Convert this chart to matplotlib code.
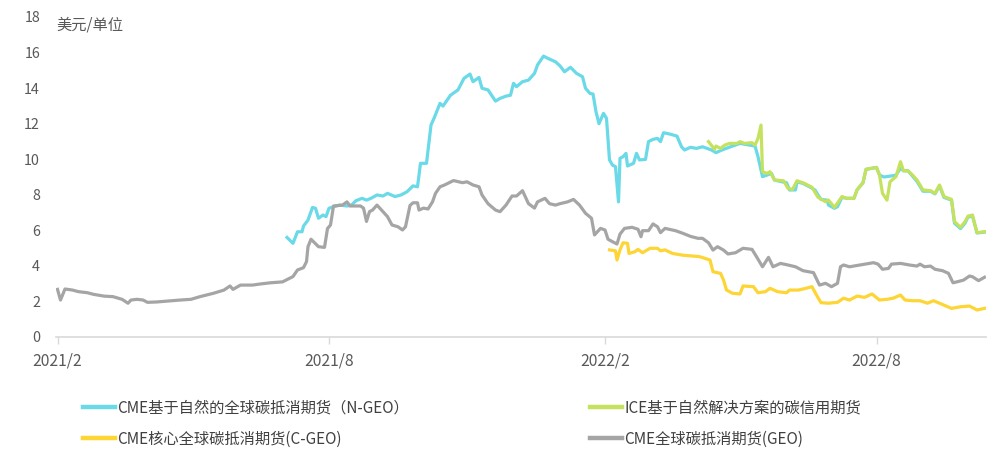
import matplotlib
matplotlib.use("Agg")
import matplotlib.pyplot as plt
import pandas as pd

plt.rcParams['font.family'] = ['Noto Sans CJK SC', 'DejaVu Sans']

# ---------------- data ----------------
geo_dates = ["2021-02-01","2021-02-03","2021-02-06","2021-02-11","2021-02-15","2021-02-21","2021-02-25",
    "2021-03-04","2021-03-10","2021-03-16","2021-03-20","2021-03-22","2021-03-26","2021-03-30","2021-04-02",
    "2021-04-08","2021-04-15","2021-04-24","2021-05-01","2021-05-07","2021-05-16","2021-05-23","2021-05-27",
    "2021-05-29","2021-06-03","2021-06-11","2021-06-16","2021-06-23","2021-07-01","2021-07-08","2021-07-11",
    "2021-07-15","2021-07-17","2021-07-18","2021-07-20","2021-07-25","2021-07-29","2021-07-31","2021-08-02",
    "2021-08-04","2021-08-10","2021-08-13","2021-08-15","2021-08-22","2021-08-24","2021-08-26","2021-08-28",
    "2021-08-30","2021-09-02","2021-09-05","2021-09-09","2021-09-12","2021-09-16","2021-09-19","2021-09-21",
    "2021-09-24","2021-09-26","2021-09-29","2021-09-30","2021-10-03","2021-10-06","2021-10-09","2021-10-11",
    "2021-10-14","2021-10-17","2021-10-23","2021-10-29","2021-11-01","2021-11-05","2021-11-09","2021-11-11",
    "2021-11-15","2021-11-20","2021-11-23","2021-11-27","2021-12-01","2021-12-04","2021-12-08","2021-12-12",
    "2021-12-16","2021-12-18","2021-12-23","2021-12-26","2021-12-30","2022-01-02","2022-01-07","2022-01-11",
    "2022-01-15","2022-01-19","2022-01-23","2022-01-25","2022-01-29","2022-02-01","2022-02-03","2022-02-06",
    "2022-02-09","2022-02-11","2022-02-14","2022-02-19","2022-02-23","2022-02-25","2022-02-26","2022-03-02",
    "2022-03-05","2022-03-08","2022-03-10","2022-03-13","2022-03-20","2022-03-25","2022-03-30","2022-04-04",
    "2022-04-07","2022-04-11","2022-04-14","2022-04-17","2022-04-21","2022-04-24","2022-04-29","2022-05-04",
    "2022-05-10","2022-05-13","2022-05-17","2022-05-21","2022-05-24","2022-05-29","2022-06-03","2022-06-08",
    "2022-06-13","2022-06-20","2022-06-24","2022-06-28","2022-07-02","2022-07-06","2022-07-08","2022-07-10",
    "2022-07-14","2022-07-21","2022-07-30","2022-08-02","2022-08-05","2022-08-09","2022-08-11","2022-08-17",
    "2022-08-23","2022-08-28","2022-08-30","2022-09-02","2022-09-06","2022-09-09","2022-09-14","2022-09-18",
    "2022-09-21","2022-09-24","2022-09-28","2022-10-02","2022-10-04","2022-10-08","2022-10-12"]
geo_values = [2.68,2.08,2.70,2.64,2.55,2.49,2.40,
    2.30,2.27,2.12,1.90,2.08,2.12,2.08,1.95,
    1.97,2.02,2.08,2.12,2.27,2.46,2.64,2.87,
    2.68,2.92,2.92,2.98,3.05,3.10,3.40,3.77,
    3.90,4.24,5.08,5.50,5.08,5.04,6.10,6.30,
    7.37,7.42,7.60,7.37,7.37,7.25,6.50,7.05,
    7.14,7.42,7.14,6.77,6.30,6.20,6.02,6.20,
    7.40,7.55,7.55,7.14,7.25,7.20,7.60,8.08,
    8.45,8.55,8.80,8.68,8.73,8.55,8.45,7.99,
    7.50,7.14,7.05,7.42,7.93,7.93,8.23,7.50,
    7.25,7.60,7.80,7.50,7.42,7.50,7.60,7.74,
    7.42,6.96,6.68,5.74,6.11,6.02,5.50,5.36,
    5.23,5.79,6.11,6.17,6.06,5.64,5.98,5.98,
    6.36,6.20,5.87,6.11,5.98,5.83,5.66,5.55,
    5.55,5.30,4.89,5.08,4.89,4.67,4.74,4.99,
    4.93,4.52,3.95,4.48,3.95,4.14,4.05,3.95,
    3.73,3.62,2.92,3.02,2.83,3.02,3.95,4.05,
    3.95,4.05,4.18,4.10,3.81,3.86,4.10,4.14,
    4.05,3.99,4.10,3.95,3.99,3.81,3.73,3.58,
    3.05,3.11,3.20,3.43,3.39,3.17,3.36]

cgeo_dates = ["2022-02-04","2022-02-08","2022-02-09","2022-02-11","2022-02-13","2022-02-16","2022-02-17",
    "2022-02-21","2022-02-23","2022-02-26","2022-03-03","2022-03-08","2022-03-10","2022-03-13","2022-03-18",
    "2022-03-25","2022-04-01","2022-04-05","2022-04-12","2022-04-14","2022-04-19","2022-04-21","2022-04-23",
    "2022-04-27","2022-05-02","2022-05-04","2022-05-11","2022-05-14","2022-05-19","2022-05-22","2022-05-27",
    "2022-06-02","2022-06-04","2022-06-10","2022-06-15","2022-06-19","2022-06-22","2022-06-25","2022-06-30",
    "2022-07-06","2022-07-10","2022-07-14","2022-07-19","2022-07-24","2022-07-29","2022-08-03","2022-08-08",
    "2022-08-12","2022-08-17","2022-08-20","2022-08-25","2022-08-30","2022-09-04","2022-09-08","2022-09-12",
    "2022-09-20","2022-09-26","2022-10-02","2022-10-07","2022-10-12"]
cgeo_values = [4.90,4.85,4.33,4.90,5.30,5.27,4.70,
    4.80,4.93,4.74,4.99,4.99,4.85,4.90,4.70,
    4.60,4.55,4.52,4.33,3.67,3.58,3.21,2.64,
    2.46,2.42,2.87,2.83,2.49,2.55,2.74,2.55,
    2.49,2.64,2.64,2.74,2.83,2.36,1.93,1.90,
    1.95,2.18,2.08,2.30,2.23,2.42,2.08,2.12,
    2.18,2.36,2.08,2.04,2.04,1.90,2.04,1.90,
    1.61,1.70,1.74,1.52,1.61]

ngeo_dates = ["2021-07-04","2021-07-08","2021-07-11","2021-07-14","2021-07-15","2021-07-18","2021-07-21",
    "2021-07-23","2021-07-25","2021-07-28","2021-07-30","2021-08-01","2021-08-04","2021-08-08","2021-08-13",
    "2021-08-16","2021-08-19","2021-08-23","2021-08-26","2021-08-29","2021-09-02","2021-09-06","2021-09-09",
    "2021-09-14","2021-09-18","2021-09-22","2021-09-26","2021-09-29","2021-10-01","2021-10-05","2021-10-08",
    "2021-10-10","2021-10-14","2021-10-16","2021-10-21","2021-10-26","2021-10-30","2021-11-03","2021-11-05",
    "2021-11-09","2021-11-11","2021-11-15","2021-11-20","2021-11-23","2021-11-27","2021-11-30","2021-12-02",
    "2021-12-04","2021-12-08","2021-12-12","2021-12-16","2021-12-18","2021-12-22","2021-12-25","2021-12-30",
    "2022-01-02","2022-01-05","2022-01-09","2022-01-13","2022-01-17","2022-01-19","2022-01-22","2022-01-24",
    "2022-01-26","2022-01-28","2022-01-31","2022-02-02","2022-02-04","2022-02-06","2022-02-08","2022-02-10",
    "2022-02-11","2022-02-13","2022-02-15","2022-02-16","2022-02-20","2022-02-22","2022-02-24","2022-02-28",
    "2022-03-02","2022-03-05","2022-03-08","2022-03-10","2022-03-12","2022-03-16","2022-03-21","2022-03-24",
    "2022-03-26","2022-03-30","2022-04-03","2022-04-07","2022-04-13","2022-04-16","2022-04-20","2022-04-27",
    "2022-05-02","2022-05-08","2022-05-12","2022-05-14","2022-05-17","2022-05-20","2022-05-23","2022-05-25",
    "2022-05-30","2022-06-02","2022-06-04","2022-06-08","2022-06-09","2022-06-13","2022-06-18","2022-06-21",
    "2022-06-23","2022-06-25","2022-06-29","2022-06-30","2022-07-04","2022-07-06","2022-07-09","2022-07-12",
    "2022-07-17","2022-07-19","2022-07-23","2022-07-25","2022-08-01","2022-08-03","2022-08-06","2022-08-10",
    "2022-08-14","2022-08-17","2022-08-19","2022-08-22","2022-08-25","2022-08-28","2022-09-01","2022-09-06",
    "2022-09-09","2022-09-12","2022-09-15","2022-09-20","2022-09-22","2022-09-26","2022-09-29","2022-10-01",
    "2022-10-04","2022-10-07","2022-10-12"]
ngeo_values = [5.60,5.27,5.92,5.92,6.24,6.58,7.29,
    7.24,6.68,6.86,6.77,7.24,7.33,7.42,7.37,
    7.42,7.67,7.80,7.70,7.80,7.99,7.93,8.08,
    7.90,7.99,8.17,8.50,8.45,9.77,9.77,11.92,
    12.30,13.14,12.99,13.60,13.90,14.55,14.79,14.36,
    14.60,13.99,13.90,13.27,13.42,13.55,13.60,14.27,
    14.08,14.36,14.45,14.83,15.30,15.80,15.67,15.48,
    15.25,14.92,15.17,14.83,14.64,13.99,13.70,13.67,
    12.67,12.00,12.58,12.30,9.96,9.67,9.58,7.60,
    10.05,10.14,10.33,9.62,9.77,10.33,9.96,9.99,
    10.99,11.12,11.17,10.99,11.49,11.42,11.30,10.70,
    10.52,10.67,10.61,10.70,10.52,10.37,10.52,10.74,
    10.89,10.80,10.74,10.14,9.02,9.11,9.20,8.83,
    8.73,8.68,8.27,8.27,8.73,8.64,8.42,8.27,
    7.99,7.74,7.70,7.42,7.24,7.33,7.86,7.80,
    7.80,8.27,8.68,9.43,9.54,9.11,9.00,9.05,
    9.10,9.50,9.35,9.35,9.05,8.75,8.20,8.20,
    8.05,8.50,7.85,7.70,6.40,6.10,6.40,6.75,
    6.80,5.85,5.90]

ice_dates = ["2022-04-11","2022-04-15","2022-04-16","2022-04-19","2022-04-22","2022-04-25","2022-04-30",
    "2022-05-02","2022-05-05","2022-05-10","2022-05-12","2022-05-14","2022-05-16","2022-05-17","2022-05-20",
    "2022-05-22","2022-05-25","2022-05-31","2022-06-03","2022-06-06","2022-06-09","2022-06-14","2022-06-19",
    "2022-06-23","2022-06-28","2022-06-30","2022-07-04","2022-07-09","2022-07-12","2022-07-17","2022-07-19",
    "2022-07-23","2022-07-25","2022-08-01","2022-08-03","2022-08-05","2022-08-08","2022-08-10","2022-08-14",
    "2022-08-17","2022-08-19","2022-08-22","2022-08-25","2022-08-28","2022-09-01","2022-09-06","2022-09-09",
    "2022-09-12","2022-09-15","2022-09-20","2022-09-22","2022-09-26","2022-09-29","2022-10-01","2022-10-04",
    "2022-10-07","2022-10-12"]
ice_values = [10.99,10.56,10.74,10.61,10.80,10.89,10.89,
    10.99,10.89,10.93,10.80,11.17,11.92,9.30,9.20,
    9.30,8.83,8.79,8.36,8.30,8.79,8.64,8.42,
    7.86,7.61,7.70,7.29,7.90,7.80,7.80,8.27,
    8.68,9.43,9.54,9.11,8.08,7.70,8.73,9.02,
    9.86,9.35,9.35,9.11,8.83,8.27,8.23,8.08,
    8.55,7.90,7.74,6.49,6.17,6.49,6.80,6.86,
    5.87,5.92]

labels = ["CME基于自然的全球碳抵消期货（N-GEO）", "ICE基于自然解决方案的碳信用期货",
          "CME核心全球碳抵消期货(C-GEO)", "CME全球碳抵消期货(GEO)"]
xtick_dates = ["2021-02-01", "2021-08-01", "2022-02-01", "2022-08-01"]
xtick_labels = ["2021/2", "2021/8", "2022/2", "2022/8"]
yticks = [0, 2, 4, 6, 8, 10, 12, 14, 16, 18]

c_cyan, c_green, c_yellow, c_gray = "#6ad9e8", "#c5e25f", "#fdd535", "#a5a5a5"

# ---------------- plot ----------------
fig = plt.figure(figsize=(9.97, 4.57), dpi=100)
ax = fig.add_axes([56/997, 1-337/457, (986-56)/997, (337-17)/457])

lw = 2.3
l_ngeo, = ax.plot(pd.to_datetime(ngeo_dates), ngeo_values, color=c_cyan, lw=lw, zorder=2, solid_joinstyle='round')
l_ice, = ax.plot(pd.to_datetime(ice_dates), ice_values, color=c_green, lw=lw, zorder=3, solid_joinstyle='round')
l_cgeo, = ax.plot(pd.to_datetime(cgeo_dates), cgeo_values, color=c_yellow, lw=lw, zorder=4, solid_joinstyle='round')
l_geo, = ax.plot(pd.to_datetime(geo_dates), geo_values, color=c_gray, lw=lw, zorder=5, solid_joinstyle='round')

ax.set_xlim(pd.Timestamp("2021-01-31"), pd.Timestamp("2022-10-13"))
ax.set_ylim(0, 18)
ax.set_yticks(yticks)
ax.set_xticks(pd.to_datetime(xtick_dates))
ax.set_xticklabels(xtick_labels)

for s in ["top", "right", "left"]:
    ax.spines[s].set_visible(False)
ax.spines["bottom"].set_color("#d9d9d9")
ax.spines["bottom"].set_linewidth(1.2)
ax.tick_params(axis="y", length=0, pad=11.5, labelsize=10.3, labelcolor="#595959")
ax.tick_params(axis="x", length=5, color="#d9d9d9", width=1, pad=6, labelsize=11.3, labelcolor="#595959")

ax.text(0.0, 1.003, "美元/单位", transform=ax.transAxes, fontsize=11, color="#595959",
        style="italic", va="top", ha="left")

leg_kw = dict(frameon=False, loc="upper left", fontsize=11, handlelength=2.1, handletextpad=0.15,
              labelspacing=0.95, borderpad=0, borderaxespad=0, labelcolor="#404040")
leg1 = fig.legend([l_ngeo, l_cgeo], [labels[0], labels[2]], bbox_to_anchor=(83/997, 1-399/457), **leg_kw)
leg2 = fig.legend([l_ice, l_geo], [labels[1], labels[3]], bbox_to_anchor=(590/997, 1-399/457), **leg_kw)
for leg in (leg1, leg2):
    for h in leg.legend_handles:
        h.set_linewidth(3.2)

fig.savefig("out.png", dpi=100)
